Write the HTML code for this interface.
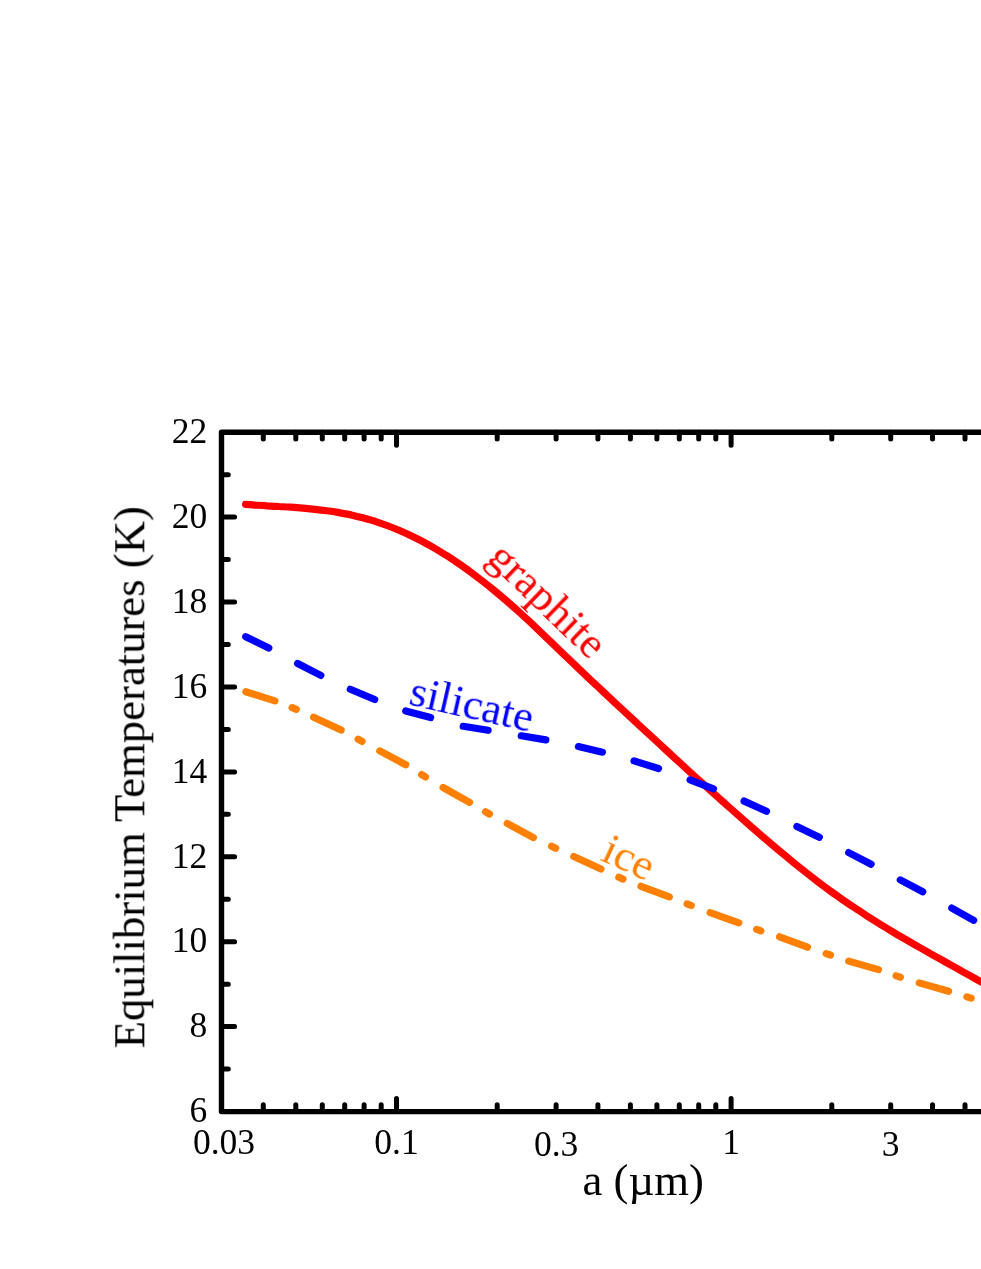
<!DOCTYPE html>
<html><head><meta charset="utf-8"><title>Equilibrium Temperatures</title>
<style>
html,body{margin:0;padding:0;background:#fff;}
body{width:981px;height:1269px;overflow:hidden;}
svg{display:block;}
text{font-family:"Liberation Serif",serif;fill:#000;}
</style></head><body>
<svg width="981" height="1269" viewBox="0 0 981 1269">
<rect width="981" height="1269" fill="#fff"/>
<path d="M245.6 504.4 C247.2 504.5 251.4 504.8 255.0 505.1 C258.6 505.3 263.0 505.5 267.0 505.8 C271.0 506.0 275.0 506.2 279.0 506.5 C283.0 506.7 287.0 506.9 291.0 507.2 C295.0 507.5 299.0 507.8 303.0 508.1 C307.0 508.5 311.0 508.9 315.0 509.3 C319.0 509.7 323.0 510.2 327.0 510.8 C331.0 511.3 335.0 511.9 339.0 512.6 C343.0 513.3 347.0 514.1 351.0 514.9 C355.0 515.8 359.0 516.8 363.0 517.8 C367.0 518.9 371.0 520.1 375.0 521.3 C379.0 522.6 383.0 524.0 387.0 525.5 C391.0 527.0 395.0 528.6 399.0 530.3 C403.0 532.0 407.0 533.8 411.0 535.8 C415.0 537.7 419.0 539.7 423.0 541.8 C427.0 544.0 431.0 546.2 435.0 548.5 C439.0 550.9 443.0 553.3 447.0 555.8 C451.0 558.4 455.0 561.0 459.0 563.8 C463.0 566.5 467.0 569.4 471.0 572.3 C475.0 575.3 479.0 578.3 483.0 581.5 C487.0 584.6 491.0 587.8 495.0 591.1 C499.0 594.4 503.0 597.8 507.0 601.3 C511.0 604.8 515.0 608.3 519.0 611.9 C523.0 615.5 527.0 619.2 531.0 622.9 C535.0 626.7 539.0 630.5 543.0 634.3 C547.0 638.1 551.0 642.0 555.0 645.8 C559.0 649.7 563.0 653.6 567.0 657.4 C571.0 661.2 575.0 665.1 579.0 668.9 C583.0 672.7 587.0 676.5 591.0 680.3 C595.0 684.0 599.0 687.8 603.0 691.5 C607.0 695.3 611.0 699.0 615.0 702.8 C619.0 706.5 623.0 710.2 627.0 713.9 C631.0 717.6 635.0 721.4 639.0 725.1 C643.0 728.8 647.0 732.5 651.0 736.2 C655.0 739.9 659.0 743.6 663.0 747.2 C667.0 750.9 671.0 754.6 675.0 758.3 C679.0 761.9 683.0 765.6 687.0 769.3 C691.0 772.9 695.0 776.5 699.0 780.2 C703.0 783.8 707.0 787.4 711.0 791.0 C715.0 794.6 719.0 798.2 723.0 801.8 C727.0 805.3 731.0 808.9 735.0 812.4 C739.0 816.0 743.0 819.5 747.0 823.0 C751.0 826.5 755.0 830.0 759.0 833.4 C763.0 836.9 767.0 840.3 771.0 843.7 C775.0 847.1 779.0 850.5 783.0 853.8 C787.0 857.1 791.0 860.4 795.0 863.7 C799.0 866.9 803.0 870.1 807.0 873.3 C811.0 876.4 815.0 879.5 819.0 882.6 C823.0 885.6 827.0 888.6 831.0 891.5 C835.0 894.4 839.0 897.2 843.0 900.0 C847.0 902.8 851.0 905.5 855.0 908.1 C859.0 910.8 863.0 913.4 867.0 916.0 C871.0 918.5 875.0 921.0 879.0 923.5 C883.0 926.0 887.0 928.4 891.0 930.8 C895.0 933.2 899.0 935.6 903.0 937.9 C907.0 940.2 911.0 942.5 915.0 944.8 C919.0 947.1 923.0 949.4 927.0 951.7 C931.0 953.9 935.0 956.2 939.0 958.4 C943.0 960.6 947.0 962.9 951.0 965.1 C955.0 967.3 959.0 969.6 963.0 971.8 C967.0 974.0 971.0 976.3 975.0 978.5 C979.0 980.8 983.0 983.1 987.0 985.4 C991.0 987.6 997.0 991.1 999.0 992.3" fill="none" stroke="#ff0000" stroke-width="7.2" stroke-linecap="round" stroke-linejoin="round"/>
<path d="M245.7 636.7 L268.8 648.0 M297.6 663.5 L320.8 675.4 M350.3 689.3 L374.7 699.5 M405.7 710.9 L430.6 717.5 M463.2 726.3 L488.1 730.3 M521.3 735.8 L545.8 739.9 M578.4 746.6 L602.4 752.2 M634.0 760.9 L658.5 768.5 M690.1 779.9 L713.5 788.8 M744.1 801.1 L766.5 811.3 M796.9 826.5 L819.3 837.3 M848.7 852.6 L871.1 864.2 M900.3 879.9 L922.7 891.7 M951.8 908.1 L973.7 920.3" fill="none" stroke="#0000ff" stroke-width="7.2" stroke-linecap="round"/>
<path d="M245.9 691.7 L274.9 700.9 M313.6 717.2 L341.1 730.1 M379.8 750.9 L405.7 764.7 M443.1 787.5 L469.5 802.3 M507.2 823.4 L533.4 837.6 M573.8 856.6 L600.9 869.0 M641.0 886.3 L669.3 896.9 M710.1 912.6 L738.8 922.9 M779.6 936.8 L807.5 947.2 M848.7 961.1 L878.5 969.6 M919.2 982.9 L948.6 991.2 M292.13 707.63 l4.15 1.75 M358.12 739.23 l3.96 2.13 M421.68 774.63 l3.84 2.34 M485.54 811.80 l3.93 2.20 M551.56 846.24 l4.07 1.92 M618.83 877.31 l4.13 1.78 M687.10 903.89 l4.20 1.62 M756.57 929.37 l4.26 1.45 M826.17 953.58 l4.26 1.44 M896.06 975.80 l4.28 1.40 M966.85 996.84 l4.30 1.33" fill="none" stroke="#ff8000" stroke-width="7.2" stroke-linecap="round"/>
<path d="M1000 432.2 H221.5 V1111.6 H1000" fill="none" stroke="#000" stroke-width="5.4" stroke-linejoin="round"/>
<path d="M263.3 432.2 v6.8 M263.3 1111.6 v-6.8 M295.8 432.2 v6.8 M295.8 1111.6 v-6.8 M322.3 432.2 v6.8 M322.3 1111.6 v-6.8 M344.7 432.2 v6.8 M344.7 1111.6 v-6.8 M364.1 432.2 v6.8 M364.1 1111.6 v-6.8 M381.2 432.2 v6.8 M381.2 1111.6 v-6.8 M396.5 432.2 v13.1 M396.5 1111.6 v-13.1 M497.2 432.2 v6.8 M497.2 1111.6 v-6.8 M556.1 432.2 v6.8 M556.1 1111.6 v-6.8 M597.9 432.2 v6.8 M597.9 1111.6 v-6.8 M630.4 432.2 v6.8 M630.4 1111.6 v-6.8 M656.9 432.2 v6.8 M656.9 1111.6 v-6.8 M679.3 432.2 v6.8 M679.3 1111.6 v-6.8 M698.7 432.2 v6.8 M698.7 1111.6 v-6.8 M715.8 432.2 v6.8 M715.8 1111.6 v-6.8 M731.1 432.2 v13.1 M731.1 1111.6 v-13.1 M831.8 432.2 v6.8 M831.8 1111.6 v-6.8 M890.7 432.2 v6.8 M890.7 1111.6 v-6.8 M932.5 432.2 v6.8 M932.5 1111.6 v-6.8 M965.0 432.2 v6.8 M965.0 1111.6 v-6.8 M991.5 432.2 v6.8 M991.5 1111.6 v-6.8 M221.5 1069.1 h6.8 M221.5 1026.6 h13.1 M221.5 984.2 h6.8 M221.5 941.7 h13.1 M221.5 899.3 h6.8 M221.5 856.8 h13.1 M221.5 814.3 h6.8 M221.5 771.9 h13.1 M221.5 729.4 h6.8 M221.5 687.0 h13.1 M221.5 644.5 h6.8 M221.5 602.0 h13.1 M221.5 559.6 h6.8 M221.5 517.1 h13.1 M221.5 474.7 h6.8 " fill="none" stroke="#000" stroke-width="5.0" stroke-linecap="round"/>
<g style="filter:grayscale(1)">
<text transform="translate(207.2 1122.3)" font-size="35.5" text-anchor="end">6</text>
<text transform="translate(207.2 1037.3)" font-size="35.5" text-anchor="end">8</text>
<text transform="translate(207.2 952.4)" font-size="35.5" text-anchor="end">10</text>
<text transform="translate(207.2 867.5)" font-size="35.5" text-anchor="end">12</text>
<text transform="translate(207.2 782.6)" font-size="35.5" text-anchor="end">14</text>
<text transform="translate(207.2 697.7)" font-size="35.5" text-anchor="end">16</text>
<text transform="translate(207.2 612.7)" font-size="35.5" text-anchor="end">18</text>
<text transform="translate(207.2 527.8)" font-size="35.5" text-anchor="end">20</text>
<text transform="translate(207.2 442.9)" font-size="35.5" text-anchor="end">22</text>
<text transform="translate(224.0 1154.3)" font-size="35.5" text-anchor="middle">0.03</text>
<text transform="translate(396.5 1154.3)" font-size="35.5" text-anchor="middle">0.1</text>
<text transform="translate(556.1 1156.0)" font-size="35.5" text-anchor="middle">0.3</text>
<text transform="translate(731.1 1154.3)" font-size="35.5" text-anchor="middle">1</text>
<text transform="translate(890.7 1156.0)" font-size="35.5" text-anchor="middle">3</text>
<text transform="translate(643.2 1195.2)" font-size="44.7" text-anchor="middle">a (µm)</text>
<text transform="translate(144.3 777.3) rotate(-90)" font-size="44.7" text-anchor="middle">Equilibrium Temperatures (K)</text>
</g>
<g style="filter:brightness(1)">
<text transform="translate(537.7 610.4) rotate(44)" font-size="44.3" text-anchor="middle" style="fill:#ff0000">graphite</text>
<text transform="translate(468.8 718.3) rotate(12.8)" font-size="44.3" text-anchor="middle" style="fill:#0000ff">silicate</text>
<text transform="translate(622.8 870.6) rotate(25)" font-size="44.7" text-anchor="middle" style="fill:#ff8000">ice</text>
</g>
</svg>
</body></html>
